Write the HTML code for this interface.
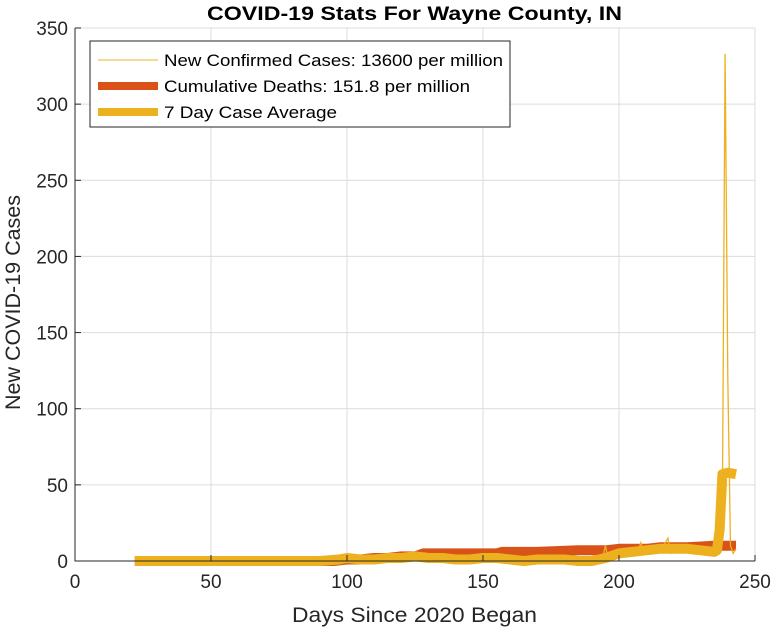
<!DOCTYPE html>
<html><head><meta charset="utf-8">
<style>
body{margin:0;background:#fff;font-family:"Liberation Sans",Arial,sans-serif}
svg text{font-family:"Liberation Sans",Arial,sans-serif}
</style></head>
<body>
<svg id="chart" width="772" height="630" xmlns="http://www.w3.org/2000/svg">
<rect width="772" height="630" fill="#fff"/>
<g id="grid"></g>
<g id="series"></g>
<g id="axes"></g>
<text x="207" y="20" textLength="415" lengthAdjust="spacingAndGlyphs" font-size="19" font-weight="bold" fill="#000">COVID-19 Stats For Wayne County, IN</text>
<text x="292" y="622" textLength="245" lengthAdjust="spacingAndGlyphs" font-size="21" fill="#262626">Days Since 2020 Began</text>
<text transform="translate(20,410) rotate(-90)" textLength="215" lengthAdjust="spacingAndGlyphs" font-size="21" fill="#262626">New COVID-19 Cases</text>
<g>
<rect x="90" y="41" width="420" height="86" fill="#fff" stroke="#262626" stroke-width="1"/>
<line x1="98" y1="60" x2="158" y2="60" stroke="#EDB120" stroke-width="1"/>
<text x="164" y="66" font-size="17" textLength="339" lengthAdjust="spacingAndGlyphs" fill="#000">New Confirmed Cases: 13600 per million</text>
<line x1="98" y1="86" x2="158" y2="86" stroke="#D95319" stroke-width="8"/>
<text x="164" y="92" font-size="17" textLength="306" lengthAdjust="spacingAndGlyphs" fill="#000">Cumulative Deaths: 151.8 per million</text>
<line x1="98" y1="112" x2="158" y2="112" stroke="#EDB120" stroke-width="8"/>
<text x="164" y="118" font-size="17" textLength="173" lengthAdjust="spacingAndGlyphs" fill="#000">7 Day Case Average</text>
</g>
</svg>
<script>
const xTicks=[0,50,100,150,200,250];
const yTicks=[0,50,100,150,200,250,300,350];
const caseDays=[22,90,97,100,104,110,116,122,126,130,136,140,146,150,156,160,166,170,176,180,186,190,194,195,196,198,200,204,207,208,209,212,216,218,219,222,224,226,228,230,232,234,236,237,238,239,240,241,242,243];
const caseVals=[0,0,3,2,1,2,2,3,3,2,1,1,2,2,1,0,0,1,1,0,0,1,2,10,2,4,5,7,6,12,7,8,9,15,5,8,6,10,7,9,5,8,6,7,40,333,120,10,5,8];
const avgDays=[22,90,97,100,105,110,115,120,125,130,135,140,145,150,155,160,165,170,175,180,185,190,195,200,205,210,215,220,225,230,235,236,237,238,240,243];
const avgVals=[0,0,1,2,1,1,2,2,3,2,2,1,1,2,2,1,0,1,1,1,0,0,2,5,6,7,8,8,8,7,6,7,20,57,58,57];
const deathDays=[22,95,100,105,110,115,120,125,128,135,145,155,157,170,185,195,200,210,215,225,235,243];
const deathVals=[0,0,1,1,2,2,3,3,5,5,5,5,6,6,7,7,8,8,9,9,10,10];
const X0=75,X1=755,Y0=561,Y1=28;
const xs=v=>X0+(v-0)/250*(X1-X0);
const ys=v=>Y0-(v/350)*(Y0-Y1);
const NS="http://www.w3.org/2000/svg";
function mk(tag,attrs,parent){const e=document.createElementNS(NS,tag);for(const k in attrs)e.setAttribute(k,attrs[k]);parent.appendChild(e);return e;}
const grid=document.getElementById('grid'),axes=document.getElementById('axes'),ser=document.getElementById('series');
xTicks.forEach(t=>{const l=mk('line',{x1:xs(t),x2:xs(t),y1:Y1,y2:Y0,stroke:'#dcdcdc','stroke-width':1},grid);


const tx=mk('text',{x:xs(t),y:Y0+27,'text-anchor':'middle','font-size':19,fill:'#262626'},axes);tx.textContent=t;


mk('line',{x1:xs(t),x2:xs(t),y1:Y0,y2:Y0-6,stroke:'#262626'},axes);});
yTicks.forEach(t=>{const l=mk('line',{x1:X0,x2:X1,y1:ys(t),y2:ys(t),stroke:'#dcdcdc','stroke-width':1},grid);


const tx=mk('text',{x:X0-7,y:ys(t)+7,'text-anchor':'end','font-size':19,fill:'#262626'},axes);tx.textContent=t;


mk('line',{x1:X0,x2:X0+6,y1:ys(t),y2:ys(t),stroke:'#262626'},axes);});
mk('path',{d:`M${X0},${Y1}V${Y0}H${X1}`,fill:'none',stroke:'#262626','stroke-width':1},axes);
function pts(d,v){return d.map((x,i)=>xs(x).toFixed(1)+','+ys(v[i]).toFixed(1)).join(' ');}
const dl=mk('polyline',{points:pts(deathDays,deathVals),fill:'none',stroke:'#D95319','stroke-width':10,'stroke-linejoin':'round'},ser);


const cl=mk('polyline',{points:pts(caseDays,caseVals),fill:'none',stroke:'#EDB120','stroke-width':1.3},ser);


const al=mk('polyline',{points:pts(avgDays,avgVals),fill:'none',stroke:'#EDB120','stroke-width':10,'stroke-linejoin':'round'},ser);


</script>
</body></html>
